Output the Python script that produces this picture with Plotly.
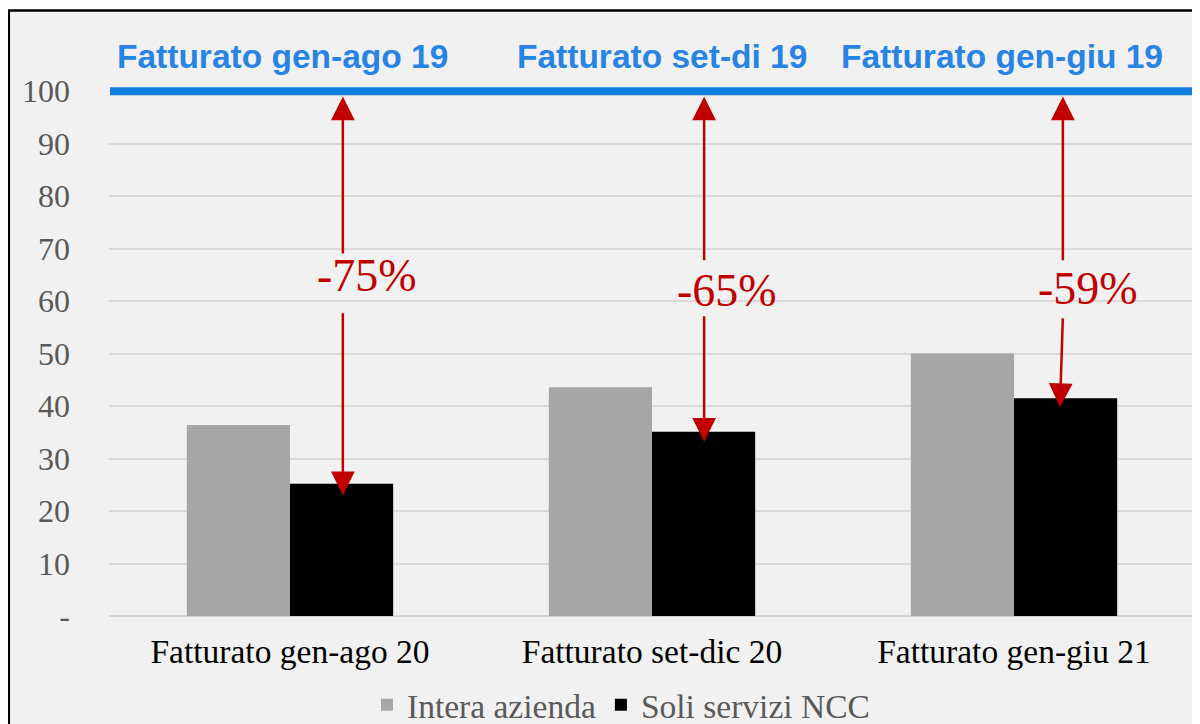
import plotly.graph_objects as go

# ---- data ----
categories = ["Fatturato gen-ago 20", "Fatturato set-dic 20", "Fatturato gen-giu 21"]
intera_azienda = [36.4, 43.6, 50.0]
soli_ncc = [25.2, 35.1, 41.5]
ref_labels = ["Fatturato gen-ago 19", "Fatturato set-di 19", "Fatturato gen-giu 19"]
ref_value = 100
pct_labels = ["-75%", "-65%", "-59%"]
y_ticks = [0, 10, 20, 30, 40, 50, 60, 70, 80, 90, 100]
y_ticktext = ["-", "10", "20", "30", "40", "50", "60", "70", "80", "90", "100"]

# arrow geometry (data units)
arrow_top_from = [68.8, 67.5, 67.5]   # tail of upper arrow (just above label)
arrow_bot_from = [58.0, 57.4, 57.0]   # tail of lower arrow (just below label)
arrow_bot_tip = [23.0, 33.2, 39.8]    # tip of lower arrow
arrow_top_tip = 99.0
pct_y = [64.8, 62.1, 62.5]

xs = list(range(len(categories)))

W, H = 1200, 724
OFF = 8  # page body margin
ML, MR, MT, MB = 101, 13, 57, 116
PW = W - ML - MR
PH = H - MT - MB


def px_x(page_x):
    return (page_x - OFF - ML) / PW


def px_y(page_y):
    return (H - MB - (page_y - OFF)) / PH


RED = "#c00000"
BLUE_LINE = "#137de0"
BLUE_TXT = "#2784e4"
SERIF = "Liberation Serif, Times New Roman, serif"
SANS = "Liberation Sans, Arial, sans-serif"

fig = go.Figure()
fig.add_trace(go.Bar(x=xs, y=intera_azienda, name="Intera azienda",
                     marker=dict(color="#a6a6a6", line=dict(width=0))))
fig.add_trace(go.Bar(x=xs, y=soli_ncc, name="Soli servizi NCC",
                     marker=dict(color="#000000", line=dict(width=0))))

# y position (paper) of the reference value, via the axis scale
ref_paper_y = (ref_value - 0) / 105.0

shapes = [
    # outer frame (black border, light grey fill)
    dict(type="rect", xref="paper", yref="paper",
         x0=px_x(8.8), x1=px_x(1230), y0=px_y(760), y1=px_y(10.5),
         fillcolor="#f1f1f1", line=dict(color="#000000", width=2.5), layer="below"),
    # reference line at 100
    dict(type="line", xref="paper", yref="paper", x0=px_x(110), x1=px_x(1215),
         y0=ref_paper_y, y1=ref_paper_y, line=dict(color=BLUE_LINE, width=8), layer="above"),
]

annotations = []
offsets_top = [0.146, 0.144, 0.135]
offsets_bot = [0.146, 0.144, 0.127]
pct_off = [0.213, 0.207, 0.204]
label_off = [-0.022, 0.028, -0.033]

for i in xs:
    annotations.append(dict(x=i + offsets_top[i], y=arrow_top_tip, ax=i + offsets_top[i],
                            ay=arrow_top_from[i], xref="x", yref="y", axref="x", ayref="y",
                            text="", showarrow=True, arrowhead=2, arrowsize=1.9,
                            arrowwidth=2.5, arrowcolor=RED, standoff=0))
    annotations.append(dict(x=i + offsets_bot[i], y=arrow_bot_tip[i], ax=i + offsets_top[i],
                            ay=arrow_bot_from[i], xref="x", yref="y", axref="x", ayref="y",
                            text="", showarrow=True, arrowhead=2, arrowsize=1.9,
                            arrowwidth=2.5, arrowcolor=RED, standoff=0))
    annotations.append(dict(x=i + pct_off[i], y=pct_y[i], xref="x", yref="y",
                            text=pct_labels[i], showarrow=False,
                            font=dict(family=SERIF, size=46, color=RED),
                            xanchor="center", yanchor="middle"))
    annotations.append(dict(x=i + label_off[i], y=px_y(56), xref="x", yref="paper",
                            text="<b>" + ref_labels[i] + "</b>", showarrow=False,
                            font=dict(family=SANS, size=33.5, color=BLUE_TXT),
                            xanchor="center", yanchor="middle"))

fig.update_layout(
    width=W, height=H,
    margin=dict(l=ML, r=MR, t=MT, b=MB, pad=0, autoexpand=False),
    paper_bgcolor="#ffffff",
    plot_bgcolor="#f1f1f1",
    barmode="group", bargap=0.43, bargroupgap=0,
    showlegend=True,
    legend=dict(orientation="h", x=px_x(621), xanchor="center", y=px_y(705), yanchor="middle",
                font=dict(family=SERIF, size=33.5, color="#595959"),
                bgcolor="rgba(0,0,0,0)", itemwidth=30, tracegroupgap=0),
    shapes=shapes,
    annotations=annotations,
    xaxis=dict(range=[-0.5, 2.5], tickvals=xs, ticktext=categories,
               tickfont=dict(family=SERIF, size=33.5, color="#000000"),
               showgrid=False, zeroline=False, showline=False, ticks="",
               ticklabelstandoff=12, fixedrange=True),
    yaxis=dict(range=[0, 105], tickvals=y_ticks, ticktext=y_ticktext,
               tickfont=dict(family=SERIF, size=32, color="#595959"),
               showgrid=True, gridcolor="#d9d9d9", gridwidth=2,
               zeroline=True, zerolinecolor="#d4d4d4", zerolinewidth=2,
               showline=False, ticks="", ticklabelstandoff=38, fixedrange=True),
)

fig.write_html("out.html")
